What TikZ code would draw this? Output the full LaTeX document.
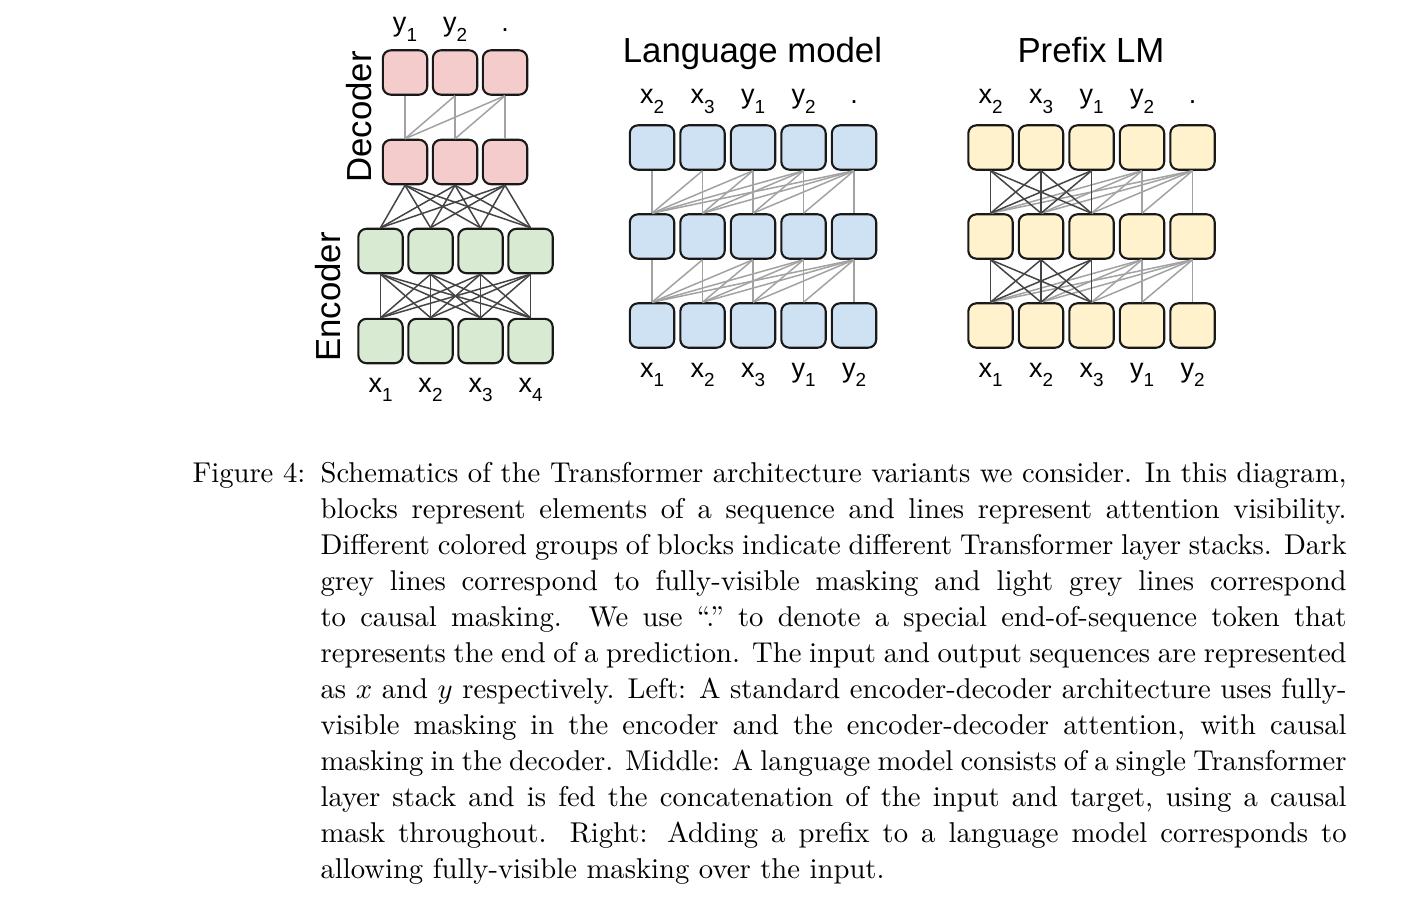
\documentclass[tikz,border=0pt]{standalone}
\usepackage{fontspec}
\newfontfamily\drawfont{Liberation Sans}

\definecolor{decpink}{HTML}{F4CCCC}
\definecolor{encgreen}{HTML}{D9EAD3}
\definecolor{lmblue}{HTML}{CFE2F3}
\definecolor{plmyellow}{HTML}{FFF2CC}
\definecolor{fullgrey}{HTML}{444444}
\definecolor{causalgrey}{HTML}{A2A2A2}

% token label: letter + small lowered index
\newcommand{\tok}[2]{{\fontsize{9}{10}\selectfont #1}\raisebox{-3.1pt}{\fontsize{6.3}{7}\selectfont #2}}

\tikzset{
  block/.style={draw=black!90, line width=0.7pt, rounded corners=2.7pt,
                minimum size=14.8pt, inner sep=0pt},
  fullvis/.style={draw=fullgrey, line width=0.5pt},
  causal/.style={draw=causalgrey, line width=0.5pt},
  toklabel/.style={anchor=base, inner sep=0pt, font=\drawfont},
  paneltitle/.style={anchor=base, inner sep=0pt, font=\drawfont\fontsize{11.6}{14}\selectfont},
  captext/.style={anchor=base west, inner sep=0pt, scale=0.955, font=\fontsize{10}{12.57}\selectfont},
}

\begin{document}
\begin{tikzpicture}[x=0.3333pt, y=-0.3333pt]

  %% ════ Left: encoder-decoder ════
  \foreach \i/\x in {1/405,2/455,3/505} {
    \node[block, fill=decpink] (d2-\i) at (\x,72.5) {};
    \node[block, fill=decpink] (d1-\i) at (\x,162) {};
  }
  \foreach \i/\x in {1/380.5,2/430.5,3/480.5,4/530.5} {
    \node[block, fill=encgreen] (e2-\i) at (\x,251) {};
    \node[block, fill=encgreen] (e1-\i) at (\x,341) {};
  }
  % causal inside the decoder
  \foreach \j in {1,2,3}
    \foreach \i in {1,...,\j}
      \draw[causal] (d2-\j.south) -- (d1-\i.north);
  % encoder-decoder attention and encoder: fully visible
  \foreach \j in {1,2,3}
    \foreach \i in {1,2,3,4}
      \draw[fullvis] (d1-\j.south) -- (e2-\i.north);
  \foreach \j in {1,2,3,4}
    \foreach \i in {1,2,3,4}
      \draw[fullvis] (e2-\j.south) -- (e1-\i.north);

  \node[toklabel] (ed-out1) at (405,32) {\tok{y}{1}};
  \node[toklabel] (ed-out2) at (455,32) {\tok{y}{2}};
  \node[toklabel] (ed-out3) at (505,32) {\tok{.}{}};
  \foreach \i/\x in {1/380.5,2/430.5,3/480.5,4/530.5}
    \node[toklabel] (ed-in\i) at (\x,392) {\tok{x}{\i}};

  \node[rotate=90, inner sep=0pt, font=\drawfont\fontsize{11.6}{14}\selectfont] (declabel) at (359,117) {Decoder};
  \node[rotate=90, inner sep=0pt, font=\drawfont\fontsize{11.6}{14}\selectfont] (enclabel) at (328,297) {Encoder};

  %% ════ Middle: language model ════
  \node[paneltitle] (lmtitle) at (752.5,62.3) {Language model};
  \foreach \i/\x in {1/652,2/702.5,3/753,4/803.5,5/854} {
    \node[block, fill=lmblue] (lm3-\i) at (\x,147.5) {};
    \node[block, fill=lmblue] (lm2-\i) at (\x,236.5) {};
    \node[block, fill=lmblue] (lm1-\i) at (\x,325.5) {};
  }
  \foreach \j in {1,...,5}
    \foreach \i in {1,...,\j} {
      \draw[causal] (lm3-\j.south) -- (lm2-\i.north);
      \draw[causal] (lm2-\j.south) -- (lm1-\i.north);
    }
  \foreach \i/\x/\t in {1/652/{\tok{x}{2}},2/702.5/{\tok{x}{3}},3/753/{\tok{y}{1}},4/803.5/{\tok{y}{2}},5/854/{\tok{.}{}}}
    \node[toklabel] (lm-out\i) at (\x,104) {\t};
  \foreach \i/\x/\t in {1/652/{\tok{x}{1}},2/702.5/{\tok{x}{2}},3/753/{\tok{x}{3}},4/803.5/{\tok{y}{1}},5/854/{\tok{y}{2}}}
    \node[toklabel] (lm-in\i) at (\x,377) {\t};

  %% ════ Right: prefix LM ════
  \node[paneltitle] (plmtitle) at (1091,62.3) {Prefix LM};
  \foreach \i/\x in {1/990.5,2/1041,3/1091.5,4/1142,5/1192.5} {
    \node[block, fill=plmyellow] (pl3-\i) at (\x,147.5) {};
    \node[block, fill=plmyellow] (pl2-\i) at (\x,236.5) {};
    \node[block, fill=plmyellow] (pl1-\i) at (\x,325.5) {};
  }
  % prefix (first three) sees itself fully, the rest is causal
  \foreach \j in {4,5}
    \foreach \i in {1,...,\j} {
      \draw[causal] (pl3-\j.south) -- (pl2-\i.north);
      \draw[causal] (pl2-\j.south) -- (pl1-\i.north);
    }
  \foreach \j in {1,2,3}
    \foreach \i in {1,2,3} {
      \draw[fullvis] (pl3-\j.south) -- (pl2-\i.north);
      \draw[fullvis] (pl2-\j.south) -- (pl1-\i.north);
    }
  \foreach \i/\x/\t in {1/990.5/{\tok{x}{2}},2/1041/{\tok{x}{3}},3/1091.5/{\tok{y}{1}},4/1142/{\tok{y}{2}},5/1192.5/{\tok{.}{}}}
    \node[toklabel] (pl-out\i) at (\x,104) {\t};
  \foreach \i/\x/\t in {1/990.5/{\tok{x}{1}},2/1041/{\tok{x}{2}},3/1091.5/{\tok{x}{3}},4/1142/{\tok{y}{1}},5/1192.5/{\tok{y}{2}}}
    \node[toklabel] (pl-in\i) at (\x,377) {\t};

  %% ════ Caption ════
  \node[captext] (figtag) at (192,482) {Figure 4:};
  \node[captext, text width=358.1pt, align=justify] (caption) at (320,482) {\tolerance=9999\hbadness=10000
    Schematics of the Transformer architecture variants we consider. In this diagram,\linebreak
    blocks represent elements of a sequence and lines represent attention visibility.\linebreak
    Different colored groups of blocks indicate different Transformer layer stacks. Dark\linebreak
    grey lines correspond to fully-visible masking and light grey lines correspond\linebreak
    to causal masking. We use “.”\ to denote a special end-of-sequence token that\linebreak
    represents the end of a prediction. The input and output sequences are represented\linebreak
    as $x$ and $y$ respectively. Left: A standard encoder-decoder architecture uses fully-\linebreak
    visible masking in the encoder and the encoder-decoder attention, with causal\linebreak
    masking in the decoder. Middle: A language model consists of a single Transformer\linebreak
    layer stack and is fed the concatenation of the input and target, using a causal\linebreak
    mask throughout. Right: Adding a prefix to a language model corresponds to\linebreak
    allowing fully-visible masking over the input.};

  % fix the canvas to the reference size
  \pgfresetboundingbox
  \path[use as bounding box] (0,0) rectangle (1414,902);
\end{tikzpicture}
\end{document}
